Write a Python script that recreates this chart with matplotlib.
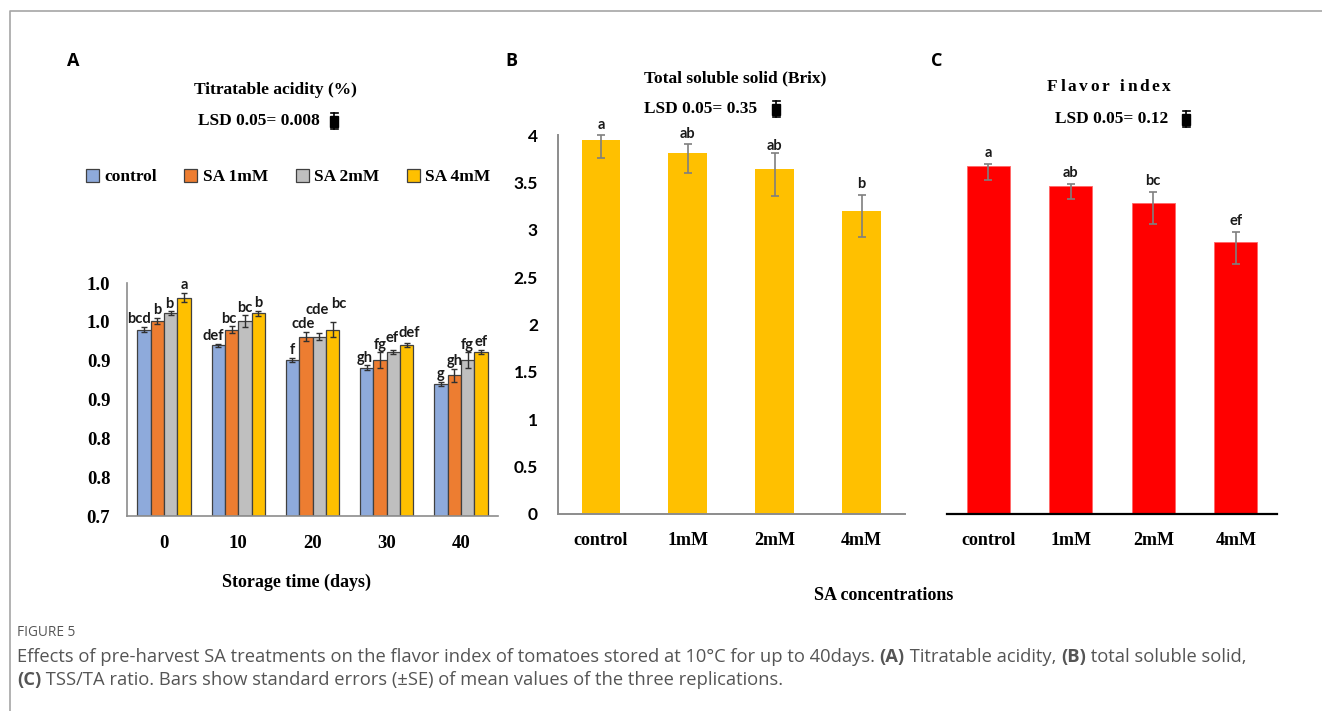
import matplotlib
matplotlib.use("Agg")
import matplotlib.pyplot as plt
import numpy as np
from matplotlib.patches import Rectangle
from matplotlib.lines import Line2D

W, H = 1322, 711
DPI = 100

# ---------------- data ----------------
days = ["0", "10", "20", "30", "40"]
treatments = ["control", "SA 1mM", "SA 2mM", "SA 4mM"]
ta_control = [0.940, 0.920, 0.901, 0.891, 0.870]
ta_sa1 = [0.951, 0.940, 0.931, 0.901, 0.881]
ta_sa2 = [0.961, 0.951, 0.931, 0.911, 0.901]
ta_sa4 = [0.981, 0.961, 0.940, 0.920, 0.911]
ta_err_control = [0.0035, 0.002, 0.003, 0.003, 0.003]
ta_err_sa1 = [0.004, 0.004, 0.006, 0.010, 0.0085]
ta_err_sa2 = [0.0026, 0.0075, 0.005, 0.003, 0.010]
ta_err_sa4 = [0.006, 0.003, 0.010, 0.003, 0.003]
ta_let_control = ["bcd", "def", "f", "gh", "g"]
ta_let_sa1 = ["b", "bc", "cde", "fg", "gh"]
ta_let_sa2 = ["b", "bc", "cde", "ef", "fg"]
ta_let_sa4 = ["a", "b", "bc", "def", "ef"]
ta_ticks = [0.70, 0.75, 0.80, 0.85, 0.90, 0.95, 1.00]
ta_tick_labels = ["0.7", "0.8", "0.8", "0.9", "0.9", "1.0", "1.0"]

conc = ["control", "1mM", "2mM", "4mM"]
tss = [3.945, 3.805, 3.636, 3.20]
tss_err_lo = [0.19, 0.21, 0.28, 0.28]
tss_err_hi = [0.05, 0.095, 0.17, 0.17]
tss_letters = ["a", "ab", "ab", "b"]
tss_ticks = [0, 0.5, 1, 1.5, 2, 2.5, 3, 3.5, 4]
tss_tick_labels = ["0", "0.5", "1", "1.5", "2", "2.5", "3", "3.5", "4"]

flavor = [3.67, 3.46, 3.28, 2.87]
flavor_err_lo = [0.14, 0.14, 0.22, 0.23]
flavor_err_hi = [0.025, 0.025, 0.116, 0.105]
flavor_letters = ["a", "ab", "bc", "ef"]

# ---------------- style ----------------
SERIF = "Liberation Serif"
SANS = "Lato"
ta_colors = ["#8EAADB", "#ED7D31", "#BFBFBF", "#FFC000"]
# label nudges (pixels): (series, group) -> (dx, dy)
label_nudge = {(0, 0): (-5, 0), (0, 1): (-5, 0), (1, 1): (-3, 0), (0, 3): (-2, 0),
               (1, 2): (-3, 0), (2, 2): (-2, 15), (3, 2): (6, 10), (2, 3): (-1, 4),
               (3, 3): (3, 2), (2, 0): (-2, 0)}

fig = plt.figure(figsize=(W / DPI, H / DPI), dpi=DPI)
fig.patch.set_facecolor("white")


def ax_px(x0, x1, ytop, ybot):
    return fig.add_axes([x0 / W, 1 - ybot / H, (x1 - x0) / W, (ybot - ytop) / H])


# overlay in pixel coordinates for free text
ov = fig.add_axes([0, 0, 1, 1])
ov.set_xlim(0, W)
ov.set_ylim(H, 0)
ov.axis("off")
ov.patch.set_alpha(0)

# border of figure frame
ov.add_line(Line2D([10, 10, W + 5], [H + 5, 11, 11], color="#A6A6A6", lw=1.2))

# ---------------- panel A ----------------
axA = ax_px(127, 498, 283, 516)
x = np.arange(len(days))
bw = 0.18
px_per_x = (498 - 127) / len(days)
px_per_y = (516 - 283) / 0.30
series = [ta_control, ta_sa1, ta_sa2, ta_sa4]
errs = [ta_err_control, ta_err_sa1, ta_err_sa2, ta_err_sa4]
lets = [ta_let_control, ta_let_sa1, ta_let_sa2, ta_let_sa4]
handles = []
for i, (vals, e, col) in enumerate(zip(series, errs, ta_colors)):
    pos = x + (i - 1.5) * bw
    b = axA.bar(pos, np.array(vals) - 0.70, bw, bottom=0.70, color=col,
                edgecolor="#404040", linewidth=0.9, label=treatments[i], zorder=2)
    handles.append(b)
    axA.errorbar(pos, vals, yerr=e, fmt="none", ecolor="#303030", elinewidth=1,
                 capsize=2.5, capthick=1, zorder=3, clip_on=False)
    for j, (p, v, ee, t) in enumerate(zip(pos, vals, e, lets[i])):
        dx, dy = label_nudge.get((i, j), (0, 0))
        axA.text(p + dx / px_per_x, v + ee + 0.0008 + dy / px_per_y, t, ha="center", va="bottom",
                 fontfamily=SANS, fontweight="bold", fontsize=10.5, color="#1a1a1a",
                 clip_on=False, zorder=4)
axA.set_xlim(-0.5, len(days) - 0.5)
axA.set_ylim(0.70, 1.00)
axA.set_yticks(ta_ticks)
axA.set_yticklabels(ta_tick_labels)
axA.set_xticks(x)
axA.set_xticklabels(days)
for s in ["top", "right"]:
    axA.spines[s].set_visible(False)
for s in ["left", "bottom"]:
    axA.spines[s].set_color("#8C8C8C")
    axA.spines[s].set_linewidth(1.2)
axA.tick_params(length=0, pad=12)
for lab in axA.get_yticklabels() + axA.get_xticklabels():
    lab.set_fontfamily(SERIF)
    lab.set_fontweight("bold")
    lab.set_fontsize(13.5)
axA.tick_params(axis="x", pad=14)

leg = fig.legend(handles=handles, labels=treatments, loc="center",
                 bbox_to_anchor=(288 / W, 1 - 177 / H), ncol=4, frameon=False,
                 handlelength=0.75, handleheight=0.75, handletextpad=0.3,
                 columnspacing=1.6, prop={"family": SERIF, "weight": "bold", "size": 12.5})

ov.text(296, 582, "Storage time (days)", ha="center", va="center",
        fontfamily=SERIF, fontweight="bold", fontsize=13)
ov.text(275, 90, "Titratable acidity (%)", ha="center", va="center",
        fontfamily=SERIF, fontweight="bold", fontsize=12.5)
ov.text(259, 121, "LSD 0.05= 0.008", ha="center", va="center",
        fontfamily=SERIF, fontweight="bold", fontsize=12.5)


def lsd_icon(cx, cy):
    ov.add_line(Line2D([cx, cx], [cy - 8, cy + 8], color="black", lw=1.2))
    ov.add_line(Line2D([cx - 3.5, cx + 3.5], [cy - 8, cy - 8], color="black", lw=1.2))
    ov.add_line(Line2D([cx - 3.5, cx + 3.5], [cy + 8, cy + 8], color="black", lw=1.2))
    ov.add_patch(Rectangle((cx - 3.8, cy - 5.5), 7.6, 11, color="black"))


lsd_icon(334, 121)

# ---------------- panel B ----------------
axB = ax_px(557.5, 905, 135, 514)
xb = np.arange(len(conc))
axB.bar(xb, tss, 0.445, color="#FFC000", zorder=2)
axB.errorbar(xb, tss, yerr=[tss_err_lo, tss_err_hi], fmt="none", ecolor="#7F7F7F",
             elinewidth=1.2, capsize=3, capthick=1.2, zorder=3, clip_on=False)
for i, (v, eh, t) in enumerate(zip(tss, tss_err_hi, tss_letters)):
    off = 0.04 if i != 2 else 0.0
    axB.text(xb[i], v + eh + off, t, ha="center", va="bottom", fontfamily=SANS,
             fontweight="bold", fontsize=10.5, color="#1a1a1a", clip_on=False, zorder=4)
axB.set_xlim(-0.5, len(conc) - 0.5)
axB.set_ylim(0, 4)
axB.set_yticks(tss_ticks)
axB.set_yticklabels(tss_tick_labels)
axB.set_xticks(xb)
axB.set_xticklabels(conc)
for s in ["top", "right"]:
    axB.spines[s].set_visible(False)
for s in ["left", "bottom"]:
    axB.spines[s].set_color("#8C8C8C")
    axB.spines[s].set_linewidth(1.4)
axB.tick_params(length=0)
axB.tick_params(axis="y", pad=14)
axB.tick_params(axis="x", pad=13)
for lab in axB.get_yticklabels():
    lab.set_fontfamily(SANS)
    lab.set_fontweight("bold")
    lab.set_fontsize(12.5)
for lab in axB.get_xticklabels():
    lab.set_fontfamily(SERIF)
    lab.set_fontweight("bold")
    lab.set_fontsize(13)

ov.text(735, 78, "Total soluble solid (Brix)", ha="center", va="center",
        fontfamily=SERIF, fontweight="bold", fontsize=12.5)
ov.text(701, 109, "LSD 0.05= 0.35", ha="center", va="center",
        fontfamily=SERIF, fontweight="bold", fontsize=12.5)
lsd_icon(776, 109)
ov.text(884, 596, "SA concentrations", ha="center", va="center",
        fontfamily=SERIF, fontweight="bold", fontsize=13)

# ---------------- panel C ----------------
axC = ax_px(947, 1277, 135, 514)
xc = np.arange(len(conc))
axC.bar(xc, flavor, 0.52, color="#FF0000", edgecolor="#FF6666", linewidth=0.6, zorder=2)
axC.errorbar(xc, flavor, yerr=[flavor_err_lo, flavor_err_hi], fmt="none", ecolor="#7F7F7F",
             elinewidth=1.2, capsize=3, capthick=1.2, zorder=3, clip_on=False)
for i, (v, eh, t) in enumerate(zip(flavor, flavor_err_hi, flavor_letters)):
    axC.text(xc[i], v + eh + 0.04, t, ha="center", va="bottom", fontfamily=SANS,
             fontweight="bold", fontsize=10.5, color="#1a1a1a", clip_on=False, zorder=4)
axC.set_xlim(-0.5, len(conc) - 0.5)
axC.set_ylim(0, 4)
axC.set_yticks([])
axC.set_xticks(xc)
axC.set_xticklabels(conc)
for s in ["top", "right", "left"]:
    axC.spines[s].set_visible(False)
axC.spines["bottom"].set_color("black")
axC.spines["bottom"].set_linewidth(1.6)
axC.tick_params(length=0)
axC.tick_params(axis="x", pad=13)
for lab in axC.get_xticklabels():
    lab.set_fontfamily(SERIF)
    lab.set_fontweight("bold")
    lab.set_fontsize(13)

renderer = fig.canvas.get_renderer()


def tracked(cx, cy, s, extra, **kw):
    widths = []
    for ch in s:
        t = ov.text(0, 0, ch if ch != " " else "n", **kw)
        bb = t.get_window_extent(renderer)
        widths.append(bb.width * (0.55 if ch == " " else 1.0))
        t.remove()
    total = sum(widths) + extra * (len(s) - 1)
    xx = cx - total / 2
    for ch, w in zip(s, widths):
        if ch != " ":
            ov.text(xx, cy, ch, ha="left", va="center", **kw)
        xx += w + extra


tracked(1109, 87, "Flavor index", 2.6, fontfamily=SERIF, fontweight="bold", fontsize=12.5)
ov.text(1112, 119, "LSD 0.05= 0.12", ha="center", va="center",
        fontfamily=SERIF, fontweight="bold", fontsize=12.5)
lsd_icon(1186, 119)

# panel letters
for lx, lt in [(73, "A"), (511, "B"), (937, "C")]:
    ov.text(lx, 61, lt, ha="center", va="center", fontfamily="Open Sans",
            fontweight="bold", fontsize=13, color="black")

# ---------------- caption ----------------
CAPC = "#555555"
ov.text(17, 633, "FIGURE 5", ha="left", va="center", fontfamily="Open Sans",
        fontsize=9.8, color=CAPC)


def rich(x0, y0, chunks, size):
    xx = x0
    for txt, bold in chunks:
        t = ov.text(xx, y0, txt, ha="left", va="center", fontfamily="Open Sans",
                    fontweight="bold" if bold else "normal", fontsize=size, color=CAPC)
        bb = t.get_window_extent(renderer)
        xx += bb.width


line1 = [("Effects of pre-harvest SA treatments on the flavor index of tomatoes stored at 10°C for up to 40days. ", False),
         ("(A)", True), (" Titratable acidity, ", False), ("(B)", True), (" total soluble solid,", False)]
line2 = [("(C)", True), (" TSS/TA ratio. Bars show standard errors (±SE) of mean values of the three replications.", False)]
rich(17, 657, line1, 13.2)
rich(17, 680, line2, 13.2)

fig.savefig("out.png", dpi=DPI, facecolor="white")
